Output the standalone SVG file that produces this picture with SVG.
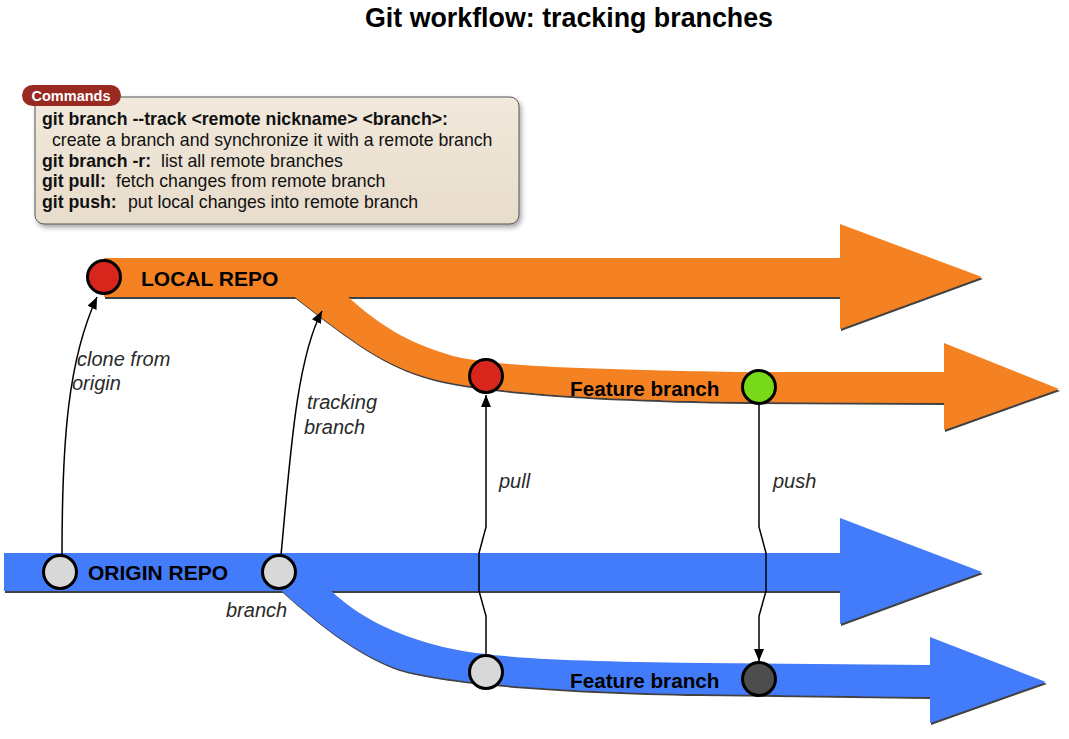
<svg xmlns="http://www.w3.org/2000/svg" width="1069" height="739" viewBox="0 0 1069 739">
<style>
.title{font-family:"Liberation Sans",Arial,sans-serif;font-weight:bold;font-size:26.8px;fill:#000}
.cmd{font-family:"Liberation Sans",Arial,sans-serif;font-size:17.7px;fill:#111}
.b{font-weight:bold}
.badge{font-family:"Liberation Sans",Arial,sans-serif;font-weight:bold;font-size:14.5px;fill:#fff}
.repo{font-family:"Liberation Sans",Arial,sans-serif;font-weight:bold;font-size:21px;fill:#000}
.feat{font-family:"Liberation Sans",Arial,sans-serif;font-weight:bold;font-size:20.7px;fill:#000}
.lbl{font-family:"Liberation Sans",Arial,sans-serif;font-style:italic;font-size:20px;fill:#2a2a2a}
.orange{fill:#f58220}
.blue{fill:#437bfb}
.node{stroke:#000;stroke-width:3}
.conn{fill:none;stroke:#000;stroke-width:1.5}
</style>
<defs>
<filter id="bandShadow" x="-5%" y="-20%" width="110%" height="140%">
<feDropShadow dx="1" dy="2" stdDeviation="0.7" flood-color="#222" flood-opacity="0.85"/>
</filter>
<filter id="boxShadow" x="-10%" y="-20%" width="120%" height="140%">
<feDropShadow dx="2" dy="3" stdDeviation="2.5" flood-color="#000" flood-opacity="0.35"/>
</filter>
<linearGradient id="boxFill" x1="0" y1="0" x2="0" y2="1">
<stop offset="0" stop-color="#f1e9dc"/>
<stop offset="1" stop-color="#e8dccb"/>
</linearGradient>
<marker id="arrow" markerUnits="userSpaceOnUse" markerWidth="12" markerHeight="10" refX="12" refY="5" orient="auto">
<path d="M0,0 L12,5 L0,10 Z" fill="#000"/>
</marker>
</defs>
<rect width="1069" height="739" fill="#fff"/>
<text class="title" x="569" y="27" text-anchor="middle">Git workflow: tracking branches</text>

<g id="commands">
<rect x="35" y="97" width="484" height="127" rx="9" fill="url(#boxFill)" stroke="#555" stroke-width="1" filter="url(#boxShadow)"/>
<rect x="22" y="85" width="99" height="21" rx="10.5" fill="#992a22"/>
<text class="badge" x="71" y="101" text-anchor="middle">Commands</text>
<text class="cmd b" x="42" y="125">git branch --track &lt;remote nickname&gt; &lt;branch&gt;:</text>
<text class="cmd" x="52" y="146">create a branch and synchronize it with a remote branch</text>
<text class="cmd" x="42" y="167"><tspan class="b">git branch -r:</tspan><tspan x="161">list all remote branches</tspan></text>
<text class="cmd" x="42" y="187"><tspan class="b">git pull:</tspan><tspan x="116">fetch changes from remote branch</tspan></text>
<text class="cmd" x="42" y="208"><tspan class="b">git push:</tspan><tspan x="128">put local changes into remote branch</tspan></text>
</g>

<g id="local-repo" filter="url(#bandShadow)" class="orange">
<path d="M104 258 L840 258 L840 224 L982 277 L840 329 L840 297 L104 297 Z"/>
<path d="M286 285 L342 285 L348 297 C380 325 405 342 453 356 C490 365 560 369 747 372 L944 372 L944 343 L1059 389 L944 430 L944 403 L747 402 C600 400 480 392 430 378 C385 366 350 340 295 297 Z"/>
</g>
<g id="origin-repo" filter="url(#bandShadow)" class="blue">
<path d="M4 553 L840 553 L840 518 L982 572 L840 624 L840 591 L4 591 Z"/>
<path d="M275 580 L325 580 L331 591 C360 617 392 634 443 647 C490 658 560 661 700 663 L930 665 L930 637 L1046 682 L930 723 L930 697 L700 694 C560 692 432 682 393 667 C355 652 320 625 282 591 Z"/>
</g>

<g id="band-labels">
<text class="repo" x="141" y="286">LOCAL REPO</text>
<text class="repo" x="88" y="580">ORIGIN REPO</text>
<text class="feat" x="570" y="396">Feature branch</text>
<text class="feat" x="570" y="688">Feature branch</text>
</g>

<g id="connectors">
<path class="conn" d="M62 555 C62 440 68 360 97 297" marker-end="url(#arrow)"/>
<path class="conn" d="M281 555 C290 460 296 360 322 311" marker-end="url(#arrow)"/>
<path class="conn" d="M486 655 L486 616 L479 591 L479 553 L486 527 L486 395" marker-end="url(#arrow)"/>
<path class="conn" d="M759 404 L759 527 L766 553 L766 591 L759 616 L759 661" marker-end="url(#arrow)"/>
<text class="lbl" x="77" y="366">clone from</text>
<text class="lbl" x="72" y="390">origin</text>
<text class="lbl" x="307" y="409">tracking</text>
<text class="lbl" x="304" y="434">branch</text>
<text class="lbl" x="499" y="488">pull</text>
<text class="lbl" x="773" y="488">push</text>
<text class="lbl" x="226" y="617">branch</text>
</g>

<g id="node-local-start"><circle class="node" cx="104" cy="277" r="16.5" fill="#d9261c"/></g>
<g id="node-local-feature-pull"><circle class="node" cx="486" cy="376" r="16.5" fill="#d9261c"/></g>
<g id="node-local-feature-push"><circle class="node" cx="759" cy="387" r="16.5" fill="#77d917"/></g>
<g id="node-origin-clone"><circle class="node" cx="60" cy="572" r="16.5" fill="#d8d8d8"/></g>
<g id="node-origin-branch"><circle class="node" cx="279" cy="572" r="16.5" fill="#d8d8d8"/></g>
<g id="node-origin-feature-pull"><circle class="node" cx="486" cy="672" r="16.5" fill="#d8d8d8"/></g>
<g id="node-origin-feature-push"><circle class="node" cx="759" cy="679" r="16.5" fill="#4d4d4d"/></g>
</svg>
